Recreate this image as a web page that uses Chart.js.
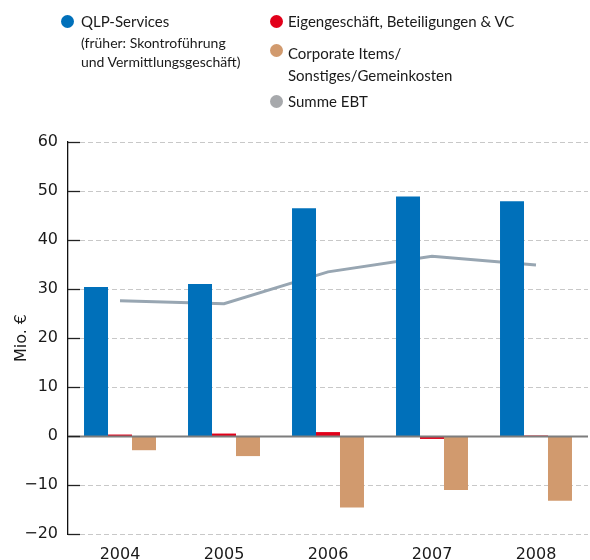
<!DOCTYPE html>
<html>
<head>
<meta charset="utf-8">
<script src="https://cdn.jsdelivr.net/npm/chart.js@4/dist/chart.umd.min.js"></script>
<style>
  body { margin: 0; background: #fff; }
  #wrap { position: relative; width: 590px; height: 560px; }
  .dot { position: absolute; width: 13px; height: 13px; border-radius: 50%; }
  .lg { position: absolute; font-family: Lato, "Open Sans", sans-serif; color: #1a1a1a; white-space: nowrap; }
  .big { font-size: 15px; line-height: 22px; }
  .small { font-size: 14px; line-height: 19px; }
</style>
</head>
<body>
<div id="wrap">
  <canvas id="chart"></canvas>
  <div class="dot" style="left:61px;top:15px;background:#0070ba"></div>
  <div class="lg big" style="left:81px;top:10px">QLP-Services</div>
  <div class="lg small" style="left:81px;top:33px">(früher: Skontroführung<br>und Vermittlungsgeschäft)</div>

  <div class="dot" style="left:270px;top:15px;background:#e2001a"></div>
  <div class="lg big" style="left:288px;top:10px">Eigengeschäft, Beteiligungen &amp; VC</div>

  <div class="dot" style="left:270px;top:44px;background:#d19a6e"></div>
  <div class="lg big" style="left:288px;top:42px">Corporate Items/<br>Sonstiges/Gemeinkosten</div>

  <div class="dot" style="left:270px;top:95px;background:#a7a9ac"></div>
  <div class="lg big" style="left:288px;top:90px">Summe EBT</div>
</div>
<script>
// Data
const years = ["2004", "2005", "2006", "2007", "2008"];
const qlpServices = [30.4, 31.0, 46.5, 48.9, 47.9];
const eigengeschaeft = [0.3, 0.5, 0.8, -0.6, 0.1];
const corporateItems = [-2.9, -4.1, -14.6, -11.0, -13.2];
const summeEbt = [27.6, 27.0, 33.5, 36.7, 34.9];
const yTicks = [-20, -10, 0, 10, 20, 30, 40, 50, 60];

// dashed grid, zero line + inner tick marks
const axisExtras = {
  id: "axisExtras",
  beforeDatasetsDraw(chart) {
    const { ctx, chartArea, scales } = chart;
    const y = scales.y;
    ctx.save();
    ctx.strokeStyle = "#c8c8c8";
    ctx.lineWidth = 1;
    ctx.setLineDash([5, 3]);
    yTicks.forEach(v => {
      if (v === 0) return;
      const py = Math.round(y.getPixelForValue(v)) + 0.5;
      ctx.beginPath();
      ctx.moveTo(chartArea.left + 12, py);
      ctx.lineTo(chartArea.right, py);
      ctx.stroke();
    });
    ctx.restore();
  },
  afterDatasetsDraw(chart) {
    const { ctx, chartArea, scales } = chart;
    const y = scales.y;
    ctx.save();
    // zero line
    const y0 = Math.round(y.getPixelForValue(0)) + 0.5;
    ctx.strokeStyle = "#7d7d7d";
    ctx.lineWidth = 2;
    ctx.beginPath();
    ctx.moveTo(chartArea.left, y0);
    ctx.lineTo(chartArea.right, y0);
    ctx.stroke();
    // tick marks
    ctx.strokeStyle = "#222";
    ctx.lineWidth = 1.3;
    yTicks.forEach(v => {
      const py = Math.round(y.getPixelForValue(v)) + 0.5;
      ctx.beginPath();
      ctx.moveTo(chartArea.left, py);
      ctx.lineTo(chartArea.left + 12, py);
      ctx.stroke();
    });
    ctx.restore();
  }
};

new Chart(document.getElementById("chart"), {
  type: "bar",
  data: {
    labels: years,
    datasets: [
      { label: "QLP-Services", data: qlpServices, backgroundColor: "#0070ba", order: 1 },
      { label: "Eigengeschäft, Beteiligungen & VC", data: eigengeschaeft, backgroundColor: "#e2001a", order: 1 },
      { label: "Corporate Items/Sonstiges/Gemeinkosten", data: corporateItems, backgroundColor: "#d19a6e", order: 1 },
      { type: "line", label: "Summe EBT", data: summeEbt, borderColor: "#98a6b2", borderWidth: 3,
        pointRadius: 0, tension: 0, fill: false, order: 10 }
    ]
  },
  options: {
    responsive: true,
    maintainAspectRatio: false,
    animation: false,
    layout: { padding: { top: 142, left: 0, right: 2, bottom: 0 } },
    plugins: { legend: { display: false }, tooltip: { enabled: false } },
    datasets: { bar: { categoryPercentage: 0.692, barPercentage: 1.0 } },
    scales: {
      x: {
        grid: { display: false },
        border: { display: false },
        ticks: { color: "#1a1a1a", padding: 3, font: { family: "'DejaVu Sans'", size: 16 } },
        afterFit(scale) { scale.height = 26; }
      },
      y: {
        min: -20, max: 60,
        afterBuildTicks(scale) { scale.ticks = yTicks.map(v => ({ value: v })); },
        grid: { display: false, drawTicks: false },
        border: { display: true, color: "#111", width: 1.3 },
        ticks: {
          color: "#1a1a1a", padding: 10, font: { family: "'DejaVu Sans'", size: 16 },
          callback: v => String(v).replace("-", "\u2212")
        },
        title: { display: true, text: "Mio. €", color: "#1a1a1a", font: { family: "'DejaVu Sans'", size: 16 }, padding: { top: 12, bottom: 0 } },
        afterFit(scale) { scale.width = 68; }
      }
    }
  },
  plugins: [axisExtras]
});
</script>
</body>
</html>
